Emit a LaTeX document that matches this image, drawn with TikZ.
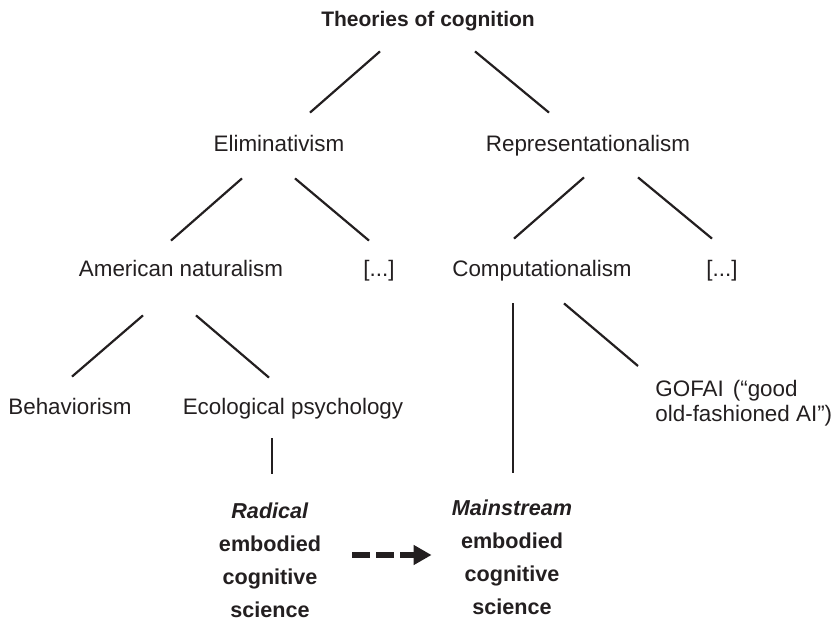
\documentclass[tikz,border=0pt]{standalone}
\usepackage{fontspec}
\setmainfont{Liberation Sans}
\usepackage{tikz}
\usetikzlibrary{arrows.meta, calc}
\definecolor{inkblack}{RGB}{35,31,32}

\begin{document}
\begin{tikzpicture}[x=0.5pt, y=-0.5pt,
  theory/.style={font=\fontsize{11.2}{13}\selectfont, text=inkblack, inner sep=0pt, text height=8.1pt, text depth=0pt, anchor=base},
  note/.style={font=\fontsize{11.2}{12.5}\selectfont, text=inkblack, inner sep=0pt, align=left, anchor=north west},
  ecs/.style={font=\fontsize{10.8}{16.5}\selectfont\bfseries, text=inkblack, inner sep=0pt, align=center, anchor=north},
  branch/.style={draw=inkblack, line width=1.1pt},
  flow/.style={draw=inkblack, line width=3pt, dash pattern=on 9pt off 3pt, -{Triangle[length=9pt,width=9.5pt]}}]
\useasboundingbox (0,0) rectangle (839,619);

% Theories
\node[theory, font=\fontsize{10.5}{13}\selectfont\bfseries] (root) at (428,27) {Theories of cognition};
\node[theory] (elim) at (279,152) {Eliminativism};
\node[theory] (repr) at (588,152) {Representationalism};
\node[theory] (amnat) at (181,277) {American naturalism};
\node[theory] (elimmore) at (379,277) {[...]};
\node[theory] (comp) at (542,277) {Computationalism};
\node[theory] (reprmore) at (722,277) {[...]};
\node[theory] (behav) at (70,415) {Behaviorism};
\node[theory] (ecol) at (293,415) {Ecological psychology};
\node[note] (gofai) at (655,380) {GOFAI\hspace{4.5pt}(“good\\old-fashioned AI”)};
\node[ecs] (radical) at (270,502) {\textit{Radical}\\embodied\\cognitive\\science};
\node[ecs] (mainecs) at (512,499) {\textit{Mainstream}\\embodied\\cognitive\\science};

% Branches
\draw[branch] ($(root.south)+(-48,24)$) -- ($(elim.north)+(31,-22.8)$);
\draw[branch] ($(root.south)+(47,24)$) -- ($(repr.north)+(-39,-22.8)$);
\draw[branch] ($(elim.south)+(-37,26)$) -- ($(amnat.north)+(-10,-19.8)$);
\draw[branch] ($(elim.south)+(16,26)$) -- ($(elimmore.north)+(-10,-19.8)$);
\draw[branch] ($(repr.south)+(-4,25)$) -- ($(comp.north)+(-28,-21.8)$);
\draw[branch] ($(repr.south)+(50,25)$) -- ($(reprmore.north)+(-10,-21.8)$);
\draw[branch] ($(amnat.south)+(-38,38)$) -- ($(behav.north)+(2,-21.8)$);
\draw[branch] ($(amnat.south)+(15,38)$) -- ($(ecol.north)+(-24,-20.8)$);
\draw[branch] ($(comp.south)+(22,26)$) -- ($(gofai.north west)+(-17,-14)$);
\draw[branch] ($(comp.south)+(-29,26)$) -- ($(mainecs.north)+(1,-26)$);
\draw[branch] ($(ecol.south)+(-21,23)$) -- ($(radical.north)+(2,-28)$);

% Radical to mainstream
\coordinate (arrowtail) at ($(radical.north east)+(31,53)$);
\draw[flow, shorten >=10pt] (arrowtail) -- (arrowtail -| mainecs.west);
\end{tikzpicture}
\end{document}
